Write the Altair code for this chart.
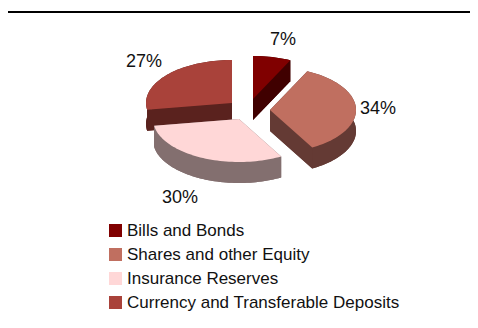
import math
import altair as alt
import pandas as pd

categories = ["Bills and Bonds", "Shares and other Equity", "Insurance Reserves", "Currency and Transferable Deposits"]
values = [7, 34, 30, 27]
labels = ["7%", "34%", "30%", "27%"]
top_colors = ["#800000", "#c06f60", "#ffd7d7", "#a9423a"]
side_colors = ["#400000", "#643a34", "#836f6f", "#5a221e"]

# layout of the tilted, exploded pie (page pixels)
APEX = [(253, 99), (270, 110), (239, 119), (232, 103)]
LABEL_AT = [(283, 40), (378, 109), (180, 198), (144, 62)]
RX, RY, DEPTH = 86, 43, 21
DRAW_ORDER = [3, 0, 1, 2]

total = sum(values)
bounds = [0.0]
for v in values:
    bounds.append(bounds[-1] + v / total * 360)


def rim(i, deg, drop=0):
    cx, cy = APEX[i]
    t = math.radians(deg)
    return (cx + RX * math.sin(t), cy - RY * math.cos(t) + drop)


def arc_pts(i, a, b, drop=0):
    n = max(2, int(abs(b - a) / 2))
    return [rim(i, a + (b - a) * k / n, drop) for k in range(n + 1)]


rows = []


def add(shape, slice_i, pts):
    for k, (x, y) in enumerate(pts):
        rows.append({"shape": shape, "category": categories[slice_i], "s": slice_i, "i": k, "x": x, "y": y})


for s in range(4):
    a, b = bounds[s], bounds[s + 1]
    cx, cy = APEX[s]
    add(f"top{s}", s, [(cx, cy)] + arc_pts(s, a, b))
    bottom = arc_pts(s, a, b, DEPTH)
    add(f"bottom{s}", s, [(cx, cy + DEPTH)] + bottom)
    add(f"cutA{s}", s, [(cx, cy), rim(s, a), rim(s, a, DEPTH), (cx, cy + DEPTH)])
    add(f"cutB{s}", s, [(cx, cy), rim(s, b), rim(s, b, DEPTH), (cx, cy + DEPTH)])
    add(f"band{s}", s, arc_pts(s, a, b) + bottom[::-1])

df = pd.DataFrame(rows)
lab = pd.DataFrame({"t": labels, "x": [p[0] for p in LABEL_AT], "y": [p[1] for p in LABEL_AT]})

FONT = "Liberation Sans"
X = alt.X("x:Q", scale=alt.Scale(domain=[8, 470], nice=False, zero=False), axis=None)
Y = alt.Y("y:Q", scale=alt.Scale(domain=[320, 8], nice=False, zero=False), axis=None)

layers = []
for s in DRAW_ORDER:
    side = df[(df.s == s) & (~df["shape"].str.startswith("top"))]
    layers.append(
        alt.Chart(side).mark_line(filled=True, fill=side_colors[s], strokeWidth=0)
        .encode(x=X, y=Y, order="i:Q", detail="shape:N")
    )
    top = df[df["shape"] == f"top{s}"]
    layers.append(
        alt.Chart(top).mark_line(filled=True, strokeWidth=0)
        .encode(
            x=X, y=Y, order="i:Q",
            color=alt.Color(
                "category:N",
                scale=alt.Scale(domain=categories, range=top_colors),
                legend=alt.Legend(
                    title=None, orient="none", legendX=99, legendY=214,
                    symbolType="square", symbolSize=170, symbolStrokeWidth=0,
                    labelFont=FONT, labelFontSize=17, labelColor="#111111",
                    rowPadding=6, labelOffset=3, labelLimit=400, symbolOpacity=1,
                ),
            ),
        )
    )

text = alt.Chart(lab).mark_text(font=FONT, fontSize=18, color="#111111").encode(x=X, y=Y, text="t:N")
rule = alt.Chart(pd.DataFrame({"x": [8], "x2": [470], "y": [12]})).mark_rule(color="black", strokeWidth=2).encode(
    x=X, x2="x2:Q", y=Y
)

chart = alt.layer(*layers, text, rule).properties(
    width=462, height=312, padding=0, autosize=alt.AutoSizeParams(type="none")
).configure_view(stroke=None)

chart.save("out.html", embed_options={"renderer": "svg", "actions": False})
